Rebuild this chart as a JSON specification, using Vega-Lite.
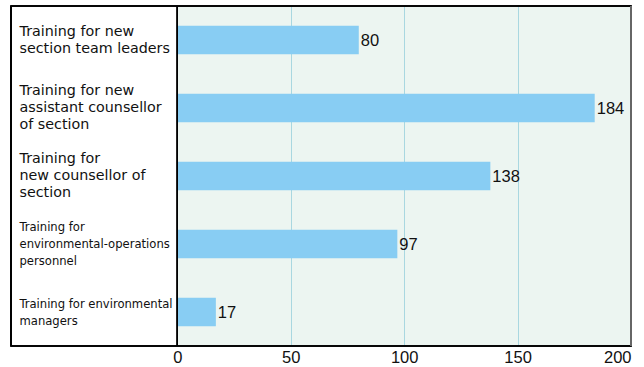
{
  "$schema": "https://vega.github.io/schema/vega-lite/v6.json",
  "width": 620,
  "height": 340,
  "autosize": {"type": "none"},
  "padding": {"left": 11, "top": 6, "right": 13, "bottom": 21},
  "background": "white",
  "config": {
    "view": {"fill": "#ECF5F1", "stroke": null}
  },
  "data": {
    "values": [
      {"training": "Training for new|section team leaders", "count": 80, "order": 1},
      {"training": "Training for new|assistant counsellor|of section", "count": 184, "order": 2},
      {"training": "Training for|new counsellor of|section", "count": 138, "order": 3},
      {"training": "Training for|environmental-operations|personnel", "count": 97, "order": 4},
      {"training": "Training for environmental|managers", "count": 17, "order": 5}
    ]
  },
  "layer": [
    {
      "mark": {"type": "rect", "fill": "white"},
      "encoding": {
        "x": {"datum": -73.3, "type": "quantitative"},
        "x2": {"datum": 0}
      }
    },
    {
      "mark": {"type": "bar", "color": "#88CDF3"},
      "encoding": {
        "y": {
          "field": "training",
          "type": "nominal",
          "sort": {"field": "order"},
          "scale": {"paddingInner": 0.58, "paddingOuter": 0.29},
          "axis": {
            "title": null,
            "orient": "left",
            "domain": false,
            "ticks": false,
            "tickSize": 0,
            "labelAlign": "left",
            "labelBaseline": "middle",
            "labelPadding": -8,
            "labelLimit": 0,
            "labelColor": "#111111",
            "labelLineHeight": 17,
            "labelExpr": "split(datum.label, '|')",
            "labelOffset": {"condition": {"test": "length(split(datum.value, '|')) == 3", "value": -17}, "value": -8},
            "labelFontSize": {"condition": {"test": "indexof(datum.value, 'environmental') >= 0", "value": 12.9}, "value": 14.3},
            "labelFont": {"condition": {"test": "indexof(datum.value, 'environmental') >= 0", "value": "DejaVu Sans Condensed"}, "value": "DejaVu Sans"},
            "zindex": 2
          }
        },
        "x": {
          "field": "count",
          "type": "quantitative",
          "scale": {"domain": [-73.3, 200], "nice": false, "zero": false},
          "axis": {
            "title": null,
            "values": [0, 50, 100, 150, 200],
            "domain": false,
            "ticks": false,
            "tickSize": 0,
            "labelPadding": 3,
            "labelFontSize": 16.5,
            "labelFont": "Liberation Sans",
            "labelColor": "#111111",
            "labelFlush": true,
            "labelFlushOffset": 0,
            "grid": true,
            "gridColor": "#A9D7E0",
            "gridWidth": 1
          }
        },
        "x2": {"datum": 0}
      }
    },
    {
      "mark": {"type": "rect", "fill": null, "fillOpacity": 0, "stroke": "#000000", "strokeWidth": 1.2},
      "encoding": {
        "x": {"datum": -73.3, "type": "quantitative"},
        "x2": {"datum": 200}
      }
    },
    {
      "mark": {"type": "rule", "color": "#000000", "strokeWidth": 1.2},
      "encoding": {"x": {"datum": 0, "type": "quantitative"}}
    },
    {
      "mark": {"type": "rule", "color": "#666666", "strokeWidth": 2},
      "encoding": {"x": {"datum": 200, "type": "quantitative"}}
    },
    {
      "mark": {"type": "text", "align": "left", "baseline": "middle", "dx": 2, "dy": 1, "fontSize": 16.5, "font": "Liberation Sans", "color": "#111111"},
      "encoding": {
        "y": {"field": "training", "type": "nominal", "sort": {"field": "order"}},
        "x": {"field": "count", "type": "quantitative"},
        "text": {"field": "count", "type": "quantitative"}
      }
    }
  ]
}
